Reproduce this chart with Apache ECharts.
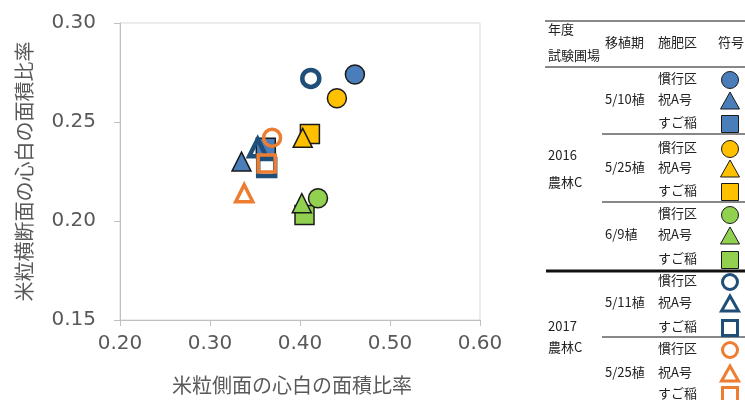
<!DOCTYPE html>
<html>
<head>
<meta charset="utf-8">
<script src="https://cdn.jsdelivr.net/npm/echarts@6/dist/echarts.min.js"></script>
<style>
  html, body { margin: 0; padding: 0; background: #fff; }
  #main { width: 745px; height: 400px; }
</style>
</head>
<body>
<div id="main"></div>
<script>
// グループ（年度・移植期）と施肥区
const groups = ['2016 5/10植', '2016 5/25植', '2016 6/9植', '2017 5/11植', '2017 5/25植'];
const plots = ['慣行区', '祝A号', 'すご稲'];
// 米粒側面の心白の面積比率 (x)
const sideRatio = [
  [0.461, 0.335, 0.362],
  [0.441, 0.403, 0.411],
  [0.420, 0.402, 0.405],
  [0.412, 0.353, 0.363],
  [0.369, 0.338, 0.363]
];
// 米粒横断面の心白の面積比率 (y)
const crossRatio = [
  [0.274, 0.230, 0.237],
  [0.262, 0.242, 0.244],
  [0.2115, 0.209, 0.203],
  [0.272, 0.237, 0.227],
  [0.242, 0.214, 0.229]
];
const groupColors = ['#4a7ebb', '#ffc000', '#92d050', '#1f4e79', '#ed7d31'];
const hollow = [false, false, false, true, true];
const ringWidth = [0, 0, 0, 4.5, 3.5];
const symbols = ['circle', 'triangle', 'rect'];
const zOrder = [3, 4, 2];   // 四角→丸→三角の順に重なる

const chart = echarts.init(document.getElementById('main'), null, { renderer: 'canvas' });

const series = [];
groups.forEach(function (g, gi) {
  plots.forEach(function (p, pi) {
    const col = groupColors[gi];
    series.push({
      name: g + ' ' + p,
      type: 'scatter',
      symbol: symbols[pi],
      symbolSize: hollow[gi] ? 17 : 19,
      z: hollow[gi] ? 6 : zOrder[pi],
      data: [[sideRatio[gi][pi], crossRatio[gi][pi]]],
      itemStyle: hollow[gi]
        ? { color: 'rgba(255,255,255,0)', borderColor: col, borderWidth: ringWidth[gi], opacity: 1 }
        : { color: col, borderColor: '#1a1a1a', borderWidth: 1.5, opacity: 1 },
      emphasis: { disabled: true }
    });
  });
});

// 右側の凡例表
const TX = { year: 548, period: 605, plot: 658, sym: 730 };
const FONT = '13px "Noto Sans CJK JP"';
const rowsY = [[78, 99, 122], [147, 167, 190], [213, 234, 258], [280, 302, 326], [348, 372, 393]];
const periodLabels = ['5/10植', '5/25植', '6/9植', '5/11植', '5/25植'];

function txt(s, x, y) {
  return {
    type: 'text', x: x, y: y, silent: true,
    style: { text: s, font: FONT, fill: '#222', align: 'left', verticalAlign: 'middle',
      textAlign: 'left', textVerticalAlign: 'middle' }
  };
}
function hline(x1, x2, y, w) {
  return { type: 'line', silent: true, shape: { x1: x1, y1: y, x2: x2, y2: y },
    style: { stroke: '#111', lineWidth: w || 1 } };
}
function sym(kind, cx, cy, col, isHollow) {
  const style = isHollow
    ? { fill: 'none', stroke: col, lineWidth: 3 }
    : { fill: col, stroke: '#1a1a1a', lineWidth: 1 };
  if (kind === 'circle') {
    return { type: 'circle', silent: true, shape: { cx: cx, cy: cy, r: isHollow ? 7.5 : 8.5 }, style: style };
  }
  if (kind === 'triangle') {
    const h = isHollow ? 8 : 9;
    return { type: 'polygon', silent: true,
      shape: { points: [[cx, cy - h], [cx - h - 0.5, cy + h - 1], [cx + h + 0.5, cy + h - 1]] }, style: style };
  }
  const s = isHollow ? 7.5 : 8.5;
  return { type: 'rect', silent: true, shape: { x: cx - s, y: cy - s, width: 2 * s, height: 2 * s }, style: style };
}

const graphics = [
  hline(545, 745, 21),
  txt('年度', TX.year, 29),
  txt('試験圃場', TX.year, 55),
  txt('移植期', TX.period, 42),
  txt('施肥区', TX.plot, 42),
  txt('符号', 718, 42),
  hline(545, 745, 67),
  hline(602, 745, 134),
  hline(602, 745, 202),
  hline(546, 745, 271, 3),
  hline(602, 745, 337),
  txt('2016', TX.year, 155),
  txt('農林C', TX.year, 182),
  txt('2017', TX.year, 326),
  txt('農林C', TX.year, 347)
];
rowsY.forEach(function (ys, gi) {
  graphics.push(txt(periodLabels[gi], TX.period, ys[1]));
  ys.forEach(function (y, pi) {
    graphics.push(txt(plots[pi], TX.plot, y));
    graphics.push(sym(symbols[pi], TX.sym, y + 2, groupColors[gi], hollow[gi]));
  });
});

const axisText = { color: '#595959', fontFamily: 'DejaVu Sans', fontSize: 20 };

const option = {
  animation: false,
  grid: {
    left: 120, right: 265, top: 23, bottom: 72,
    show: true, borderColor: '#d9d9d9', borderWidth: 1, backgroundColor: '#fff'
  },
  xAxis: {
    type: 'value', min: 0.2, max: 0.6, interval: 0.1,
    name: '米粒側面の心白の面積比率',
    nameLocation: 'middle', nameGap: 55,
    nameTextStyle: { color: '#595959', fontFamily: 'Noto Sans CJK JP', fontSize: 20, padding: [0, 16, 0, 0] },
    axisLine: { show: true, lineStyle: { color: '#bfbfbf' } },
    axisTick: { show: true, length: 6, lineStyle: { color: '#bfbfbf' } },
    splitLine: { show: false },
    axisLabel: Object.assign({ margin: 14, formatter: function (v) { return v.toFixed(2); } }, axisText)
  },
  yAxis: {
    type: 'value', min: 0.15, max: 0.30, interval: 0.05,
    name: '米粒横断面の心白の面積比率',
    nameLocation: 'middle', nameGap: 86,
    nameTextStyle: { color: '#595959', fontFamily: 'Noto Sans CJK JP', fontSize: 20 },
    axisLine: { show: true, lineStyle: { color: '#bfbfbf' } },
    axisTick: { show: true, length: 6, lineStyle: { color: '#bfbfbf' } },
    splitLine: { show: false },
    axisLabel: Object.assign({ margin: 24, formatter: function (v) { return v.toFixed(2); } }, axisText)
  },
  graphic: graphics,
  series: series
};

chart.setOption(option);
</script>
</body>
</html>
